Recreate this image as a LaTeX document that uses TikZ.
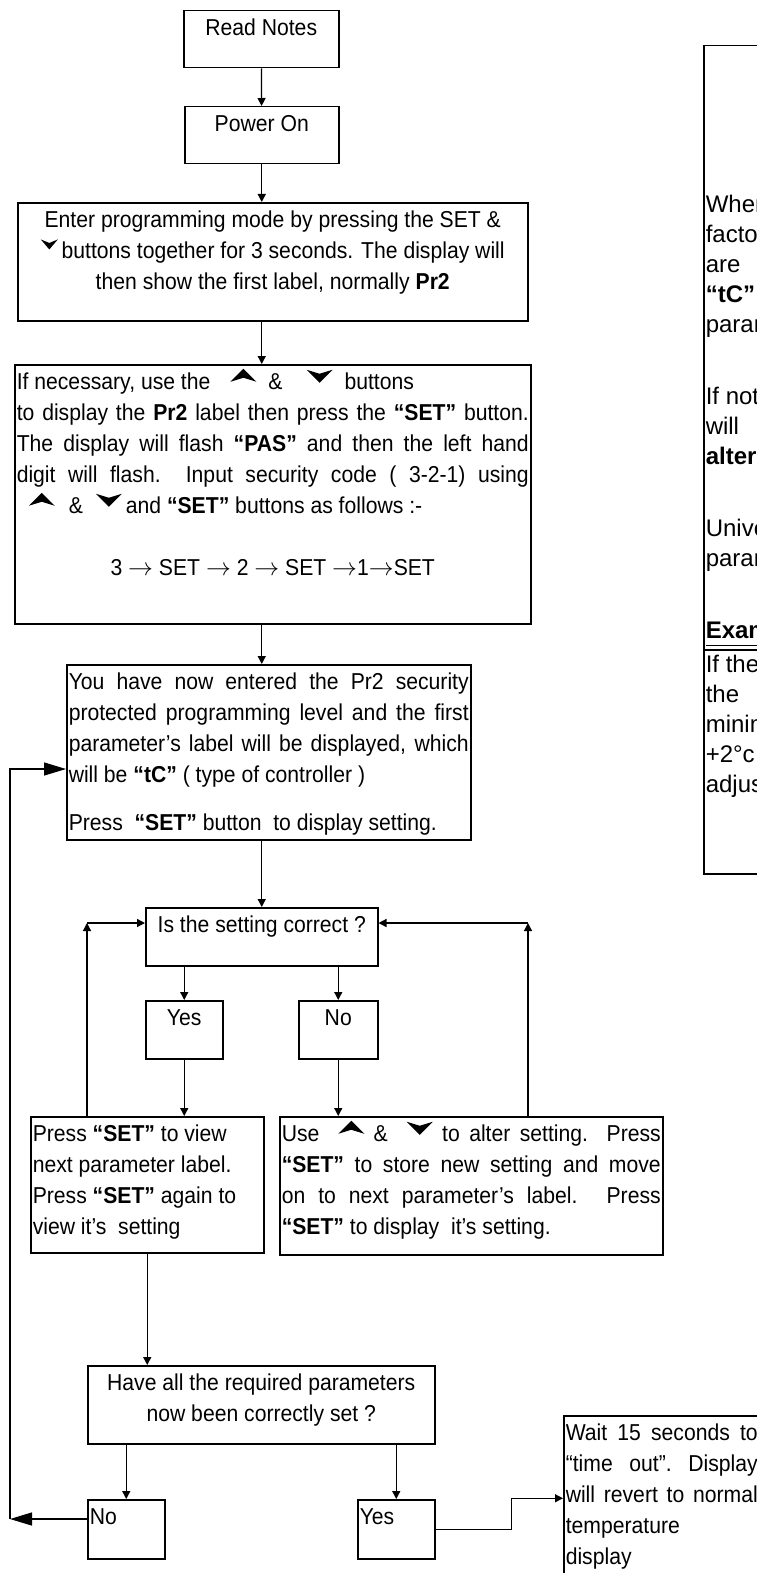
\documentclass[tikz,border=0pt]{standalone}
\usepackage{fontspec}
\setmainfont[FakeStretch=0.92]{Liberation Sans}
\newfontfamily\notefont{Liberation Sans}
\usetikzlibrary{arrows.meta}

% text block of a fixed size, text at the top
\newcommand{\cellbox}[4]{\parbox[c][\dimexpr#2pt-6pt\relax][t]{\dimexpr#1pt-4pt\relax}{#3\strut#4}}
% the key symbols
\newcommand{\upkey}{\tikz[x=1pt,y=1pt,baseline=0pt]{\path (0,0) (26,22); \fill (0,8) -- (13,21) -- (26,8) -- (13,12) -- cycle;}}
\newcommand{\downkey}{\tikz[x=1pt,y=1pt,baseline=0pt]{\path (0,0) (26,22); \fill (0,20) -- (13,7) -- (26,20) -- (13,16) -- cycle;}}
\newcommand{\downsmall}{\tikz[x=1pt,y=1pt,baseline=0pt]{\path (0,0) (17,20); \fill (0,19) -- (8.5,9) -- (17,19) -- (8.5,15.5) -- cycle;}}

\begin{document}
\begin{tikzpicture}[x=1pt, y=-1pt,
    every node/.style={font=\fontsize{23}{31}\selectfont},
    box/.style={draw, line width=1.5pt, anchor=north west, inner xsep=2pt, inner ysep=3pt},
    arr/.style={line width=1.3pt, -{Triangle[length=8pt,width=8pt]}},
    bigarr/.style={line width=1.3pt, -{Triangle[length=22pt,width=13pt]}}]
  \useasboundingbox (0,0) rectangle (756,1573);

  % --- start ---
  \node[box] (read) at (183,10) {\cellbox{155}{57}{\centering}{Read Notes}};
  \node[box] (power) at (184,106) {\cellbox{154}{57}{\centering}{Power On}};
  \node[box] (enter) at (17,202) {\cellbox{510}{118}{\centering}{Enter programming mode by pressing the SET \&\\
    \downsmall\,buttons together for 3 seconds. The display will\\
    then show the first label, normally \textbf{Pr2}}};
  \node[box] (ifnec) at (14,364) {\cellbox{516}{259}{}{If necessary, use the\hspace{20pt}\upkey\hspace{12pt}\&\hspace{24pt}\downkey\hspace{12pt}buttons\\
    \makebox[\linewidth][s]{to display the \textbf{Pr2} label then press the \textbf{“SET”} button.}\\
    \makebox[\linewidth][s]{The display will flash \textbf{“PAS”} and then the left hand}\\
    \makebox[\linewidth][s]{digit will flash.\ \ Input security code ( 3-2-1) using}\\
    \hspace*{12pt}\upkey\hspace{14pt}\&\hspace{13pt}\downkey\hspace{4pt}and \textbf{“SET”} buttons as follows :-\\[31pt]
    \makebox[\linewidth]{3 $\rightarrow$ SET $\rightarrow$ 2 $\rightarrow$ SET $\rightarrow$1$\rightarrow$SET}}};

  % --- security level ---
  \node[box] (younow) at (66,664) {\cellbox{404}{175}{}{\makebox[\linewidth][s]{You have now entered the Pr2 security}\\
    \makebox[\linewidth][s]{protected programming level and the first}\\
    \makebox[\linewidth][s]{parameter’s label will be displayed, which}\\
    will be \textbf{“tC”} ( type of controller )\\[17pt]
    Press\ \ \textbf{“SET”} button\ \ to display setting.}};

  % --- check each setting ---
  \node[box] (isok) at (145,907) {\cellbox{232}{58}{\centering}{Is the setting correct ?}};
  \node[box] (yes1) at (145,1000) {\cellbox{77}{58}{\centering}{Yes}};
  \node[box] (no1) at (298,1000) {\cellbox{79}{58}{\centering}{No}};
  \node[box] (press) at (30,1116) {\cellbox{233}{136}{\raggedright}{Press \textbf{“SET”} to view\\
    next parameter label.\\
    Press \textbf{“SET”} again to\\
    view it’s\ \ setting}};
  \node[box] (alter) at (279,1116) {\cellbox{383}{138}{}{\makebox[\linewidth][s]{Use\ \ \upkey\ \&\ \ \downkey\ to alter setting. Press}\\
    \makebox[\linewidth][s]{\textbf{“SET”} to store new setting and move}\\
    \makebox[\linewidth][s]{on to next parameter’s label. Press}\\
    \textbf{“SET”} to display\ \ it’s setting.}};

  % --- finish ---
  \node[box] (allset) at (87,1365) {\cellbox{347}{78}{\centering}{Have all the required parameters\\ now been correctly set ?}};
  \node[box] (no2) at (87,1499) {\cellbox{77}{59}{\raggedright}{No}};
  \node[box] (yes2) at (357,1499) {\cellbox{77}{59}{\raggedright}{Yes}};
  \node[box] (wait) at (563,1415) {\cellbox{196}{165}{}{\makebox[\linewidth][s]{Wait 15 seconds to}\\
    \makebox[\linewidth][s]{“time\ \ out”.\ \ Display}\\
    \makebox[\linewidth][s]{will revert to normal}\\
    temperature\\
    display}};

  % --- notes on the right ---
  \node[box] (notes) at (703,45) {\cellbox{320}{828}{\notefont\fontsize{24}{30}\selectfont\vspace*{143pt}}{When\\ factory\\ are\\ \textbf{“tC”}\\ parameters\\[42pt]
    If not\\ will\\ \textbf{altered}\\[42pt]
    Universal\\ parameters\\[42pt]
    \textbf{\underline{Example}}\\[4pt]
    If the\\ the\\ minimum\\ +2°c\\ adjust}};
  \coordinate (exrule) at (703,650);
  \draw[line width=2pt] (exrule) -- (exrule -| notes.east);

  % --- connectors ---
  \draw[arr] (read) -- (power);
  \draw[arr] (power.south) -- (power.south |- enter.north);
  \draw[arr] (enter.south -| power.south) -- (ifnec.north -| power.south);
  \draw[arr] (ifnec.south -| isok.north) -- (younow.north -| isok.north);
  \draw[arr] (younow.south -| isok.north) -- (isok.north);
  \draw[arr] (isok.south -| yes1.north) -- (yes1.north);
  \draw[arr] (isok.south -| no1.north) -- (no1.north);
  \draw[arr] (yes1.south) -- (yes1.south |- press.north);
  \draw[arr] (no1.south) -- (no1.south |- alter.north);
  % back to the question
  \coordinate (lturn) at (87,923);
  \coordinate (rturn) at (528,923);
  \draw[arr] (press.north -| lturn) -- (lturn);
  \draw[arr] (lturn) -- (lturn -| isok.west);
  \draw[arr] (alter.north -| rturn) -- (rturn);
  \draw[arr] (rturn) -- (rturn -| isok.east);
  \draw[arr] (press.south) -- (press.south |- allset.north);
  \draw[arr] (allset.south -| no2.north) -- (no2.north);
  \draw[arr] (allset.south -| yes2.north) -- (yes2.north);
  % back to the first parameter
  \coordinate (backlow) at (10,1519);
  \coordinate (backhigh) at (10,769);
  \draw[bigarr] (no2.west |- backlow) -- (backlow);
  \draw[bigarr] (backlow) -- (backhigh) -- (backhigh -| younow.west);
  \draw[arr] (yes2.east) -- ++(76,0) |- (wait.west);
\end{tikzpicture}
\end{document}
